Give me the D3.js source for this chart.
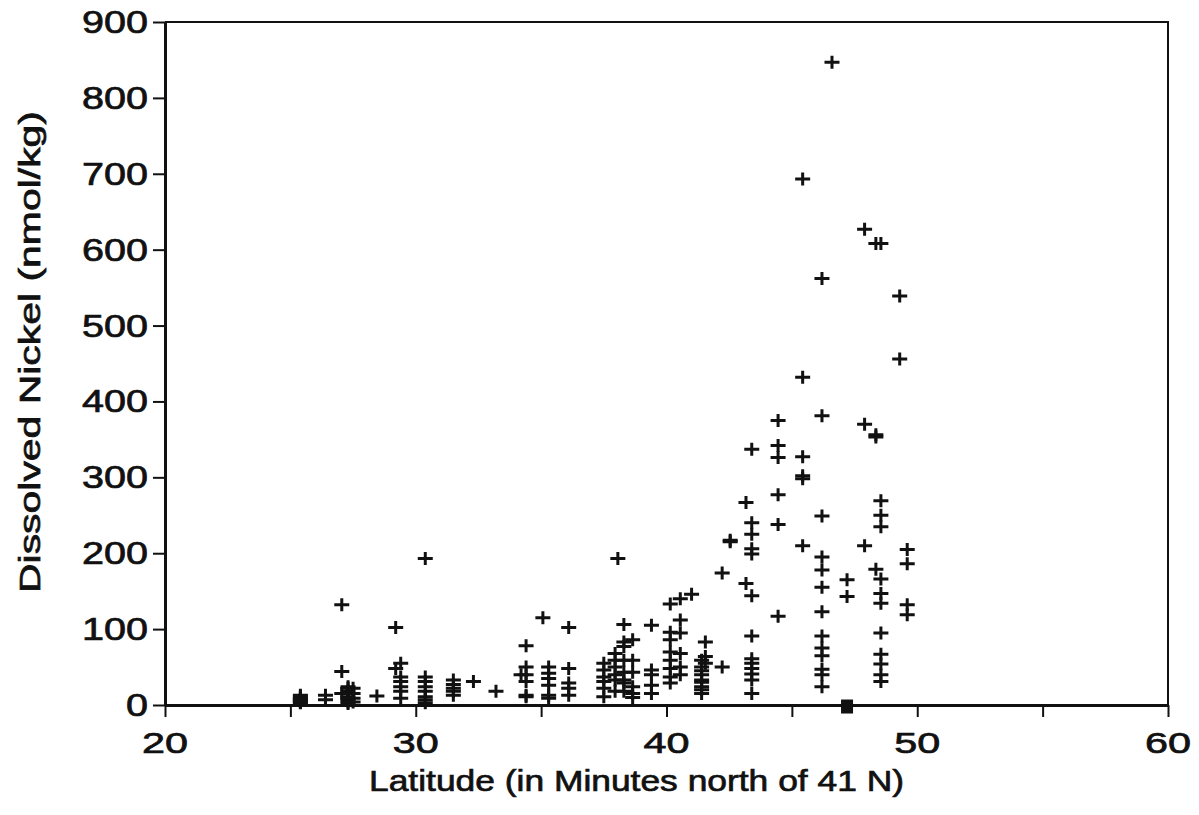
<!DOCTYPE html>
<html>
<head>
<meta charset="utf-8">
<script src="https://cdn.jsdelivr.net/npm/d3@7"></script>
<style>
  body { margin: 0; background: #fff; }
  svg { display: block; }
  text { font-family: "Liberation Sans", Arial, sans-serif; fill: #111; stroke: #111; stroke-width: 0.7px; }
</style>
</head>
<body>
<svg width="1199" height="815"></svg>
<script>
// station latitude (minutes north of 41 N) and the nickel values read at each one
var stationLat = [25.4, 26.4, 27.05, 27.3, 27.5, 28.45, 29.2, 29.4, 30.38, 31.5,
                  32.3, 33.2, 34.2, 34.4, 35.07, 35.3, 36.1, 37.5, 37.95, 38.06,
                  38.3, 38.65, 39.4, 40.15, 40.55, 41.0, 41.4, 41.55, 42.22, 42.54,
                  43.17, 43.4, 44.45, 45.43, 46.2, 46.6, 47.2, 47.9, 48.35, 48.55,
                  49.3, 49.6];

var nickelByStation = [
  [3, 5, 7, 9, 11, 13, 4, 8],
  [13, 7],
  [132, 44, 15],
  [24, 22, 18, 15, 11, 9, 6, 4, 2],
  [22, 15, 9, 4],
  [12],
  [102, 48],
  [55, 37, 31, 24, 18, 9],
  [193, 37, 31, 24, 18, 11, 7, 3],
  [33, 27, 22, 18, 13],
  [31],
  [18],
  [40],
  [78, 50, 40, 31, 13, 11],
  [115],
  [50, 42, 35, 26, 13, 9],
  [102, 48, 29, 22, 13],
  [55, 46, 37, 31, 22, 11],
  [68, 59, 50, 40, 33, 18],
  [193],
  [106, 83, 77, 59, 43, 33, 29, 18],
  [86, 59, 43, 24, 15, 10],
  [105, 46, 40, 26, 15],
  [133, 96, 86, 70, 59, 48, 37, 29],
  [140, 112, 95, 68, 50, 40],
  [146],
  [59, 50, 45, 40, 33, 30, 24, 20, 15],
  [83, 64, 55],
  [174, 50],
  [217, 215],
  [267, 160],
  [337, 240, 225, 206, 199, 144, 91, 61, 55, 48, 41, 33, 15],
  [375, 342, 326, 277, 238, 117],
  [693, 432, 327, 302, 298, 210],
  [562, 381, 249, 195, 178, 155, 123, 91, 75, 65, 47, 40, 24],
  [847],
  [165, 143],
  [627, 370, 210],
  [608, 356, 353, 179],
  [608, 269, 250, 235, 166, 147, 134, 95, 67, 54, 40, 31],
  [539, 456],
  [205, 186, 132, 119]
];

// the single filled square sitting on the axis
var squareLat = [47.2];
var squareNickel = [-2];

var xTicks = [20, 25, 30, 35, 40, 45, 50, 55, 60];
var xLabels = [20, 30, 40, 50, 60];
var yTicks = [0, 100, 200, 300, 400, 500, 600, 700, 800, 900];

var svg = d3.select("svg"),
    plotLeft = 165, plotRight = 1168, plotTop = 22, plotBottom = 705;

var x = d3.scaleLinear().domain([20, 60]).range([plotLeft, plotRight]);
var y = d3.scaleLinear().domain([0, 900]).range([plotBottom, plotTop]);

// flatten stations into points
var points = [];
stationLat.forEach(function(lat, i) {
  nickelByStation[i].forEach(function(v) { points.push({lat: lat, ni: v}); });
});

// frame (top + right)
svg.append("path")
    .attr("d", "M" + plotLeft + "," + plotTop + "H" + plotRight + "V" + plotBottom)
    .attr("fill", "none")
    .attr("stroke", "#111")
    .attr("stroke-width", 2);

// x axis
var xAxis = svg.append("g")
    .attr("transform", "translate(0," + plotBottom + ")")
    .call(d3.axisBottom(x).tickValues(xTicks).tickSize(12).tickSizeOuter(0).tickFormat(""));
xAxis.select(".domain").attr("stroke", "#111").attr("stroke-width", 3);
xAxis.selectAll(".tick line").attr("stroke", "#111").attr("stroke-width", 2);

svg.append("g").selectAll("text")
    .data(xLabels)
    .enter().append("text")
    .attr("x", function(d) { return x(d); })
    .attr("y", 753)
    .attr("text-anchor", "middle")
    .attr("font-size", 30)
    .attr("textLength", 46)
    .attr("lengthAdjust", "spacingAndGlyphs")
    .text(function(d) { return d; });

// y axis
var yAxis = svg.append("g")
    .attr("transform", "translate(" + plotLeft + ",0)")
    .call(d3.axisLeft(y).tickValues(yTicks).tickSize(12).tickSizeOuter(0).tickFormat(""));
yAxis.select(".domain").attr("stroke", "#111").attr("stroke-width", 3);
yAxis.selectAll(".tick line").attr("stroke", "#111").attr("stroke-width", 2);

svg.append("g").selectAll("text")
    .data(yTicks)
    .enter().append("text")
    .attr("x", 148)
    .attr("y", function(d) { return y(d) + 11; })
    .attr("text-anchor", "end")
    .attr("font-size", 31)
    .attr("textLength", function(d) { return String(d).length * 22; })
    .attr("lengthAdjust", "spacingAndGlyphs")
    .text(function(d) { return d; });

// axis titles
svg.append("text")
    .attr("x", (plotLeft + plotRight) / 2 - 30)
    .attr("y", 791)
    .attr("text-anchor", "middle")
    .attr("font-size", 30)
    .attr("textLength", 535)
    .attr("lengthAdjust", "spacingAndGlyphs")
    .text("Latitude (in Minutes north of 41 N)");

svg.append("text")
    .attr("transform", "translate(40,352) rotate(-90)")
    .attr("text-anchor", "middle")
    .attr("font-size", 30)
    .attr("textLength", 482)
    .attr("lengthAdjust", "spacingAndGlyphs")
    .text("Dissolved Nickel (nmol/kg)");

// crosses
var cross = "M-7.5,0H7.5M0,-6.5V6.5";
svg.append("g")
    .attr("class", "points")
    .selectAll("path")
    .data(points)
    .enter().append("path")
    .attr("transform", function(d) { return "translate(" + x(d.lat) + "," + y(d.ni) + ")"; })
    .attr("d", cross)
    .attr("stroke", "#111")
    .attr("stroke-width", 3)
    .attr("fill", "none");

// filled square
svg.append("g").selectAll("rect")
    .data(squareLat)
    .enter().append("rect")
    .attr("x", function(d) { return x(d) - 6; })
    .attr("y", function(d, i) { return y(squareNickel[i]) - 7; })
    .attr("width", 12)
    .attr("height", 14)
    .attr("fill", "#111");
</script>
</body>
</html>
